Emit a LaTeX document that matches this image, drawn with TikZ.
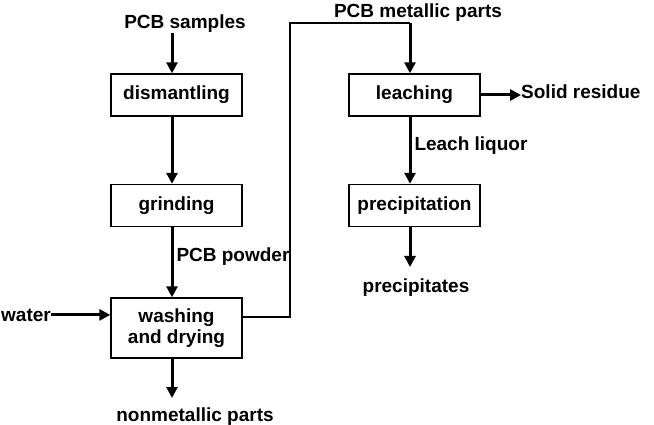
\documentclass[tikz,border=0pt]{standalone}
\usepackage{fontspec}
\setmainfont{Liberation Sans}
\usetikzlibrary{arrows.meta}

\begin{document}
\begin{tikzpicture}[x=1pt,y=-1pt,font=\fontsize{19}{21}\selectfont\bfseries]
\useasboundingbox (0,0) rectangle (654,425);
\begin{scope}[every node/.style={rectangle,draw,line width=1.4pt,minimum width=131pt,minimum height=42pt,inner sep=0pt}]
    \node (dis) at (176.5,95) {dismantling};
    \node (grd) at (176.5,205.5) {grinding};
    \node (wash)[minimum height=60pt,align=center] at (176.5,328) {washing\\and drying};
    \node (leach) at (414.5,95) {leaching};
    \node (prec) at (414.5,205.5) {precipitation};
\end{scope}

\begin{scope}[every node/.style={inner sep=0pt,anchor=base}]
    \node (samp) at (185,29) {PCB samples};
    \node (water)[anchor=base east] at (51,321) {water};
    \node (nonmet) at (195,421) {nonmetallic parts};
    \node (metal) at (418,18) {PCB metallic parts};
    \node (resid)[anchor=base west] at (521,99) {Solid residue};
    \node (precs) at (416,292) {precipitates};
\end{scope}

\coordinate (bend) at (290,23);
\coordinate (drop) at (410,23);
\coordinate (nend) at (172,398);
\coordinate (pend) at (410,267);

\draw[line width=1.4pt] ([yshift=11pt]wash.east) -| (bend) -- (drop);

\begin{scope}[
              every node/.style={anchor=west,inner sep=3pt},
              every edge/.style={draw=black,line width=3pt,-{Triangle[length=11pt,width=11pt]}}]
    \path  ([xshift=-4.5pt]dis.north |- samp.south) edge ([xshift=-4.5pt]dis.north);
    \path  ([xshift=-4.5pt]dis.south) edge ([xshift=-4.5pt]grd.north);
    \path  ([xshift=-4.5pt]grd.south) edge node[pos=0.42] {PCB powder} ([xshift=-4.5pt]wash.north);
    \path  (water.east) edge (water.east -| wash.west);
    \path  ([xshift=-4.5pt]wash.south) edge (nend);
    \path  (drop) edge ([xshift=-4.5pt]leach.north);
    \path  (leach.east) edge (resid.west |- leach.east);
    \path  ([xshift=-4.5pt]leach.south) edge node[pos=0.43] {Leach liquor} ([xshift=-4.5pt]prec.north);
    \path  ([xshift=-4.5pt]prec.south) edge (pend);
\end{scope}
\end{tikzpicture}
\end{document}
